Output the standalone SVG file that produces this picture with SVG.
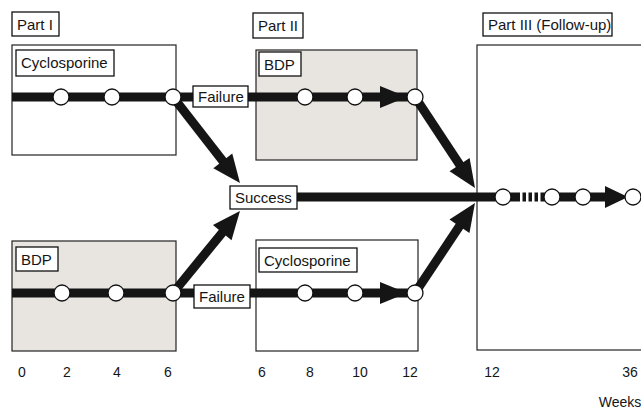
<svg xmlns="http://www.w3.org/2000/svg" width="641" height="409" viewBox="0 0 641 409">
<defs>
<style>
.lbl{fill:#fff;stroke:#111;stroke-width:1.3}
.t{font-family:"Liberation Sans",Arial,sans-serif;font-size:15px;fill:#151515}
.ax{font-family:"Liberation Sans",Arial,sans-serif;font-size:14px;fill:#151515;text-anchor:middle}
.pane{stroke:#222;stroke-width:1.2;fill:#fff}
.shade{fill:#e8e5e1}
.bar{stroke:#151515;stroke-width:9;fill:none}
.pt{fill:#fff;stroke:#111;stroke-width:1.3}
.head{fill:#151515}
</style>
<marker id="ah" markerUnits="userSpaceOnUse" markerWidth="60" markerHeight="60" viewBox="-30 -30 60 60" refX="0" refY="0" orient="auto" overflow="visible">
<path d="M-8,-12 L20,0 L-8,12 Z" fill="#151515"/>
</marker>
</defs>
<rect width="641" height="409" fill="#fff"/>

<g id="panes">
<rect class="pane" x="12" y="45" width="164" height="110"/>
<rect class="pane shade" x="256" y="50" width="161" height="110" stroke="#222" stroke-width="1.2"/>
<rect class="pane shade" x="12" y="241" width="164" height="110" stroke="#222" stroke-width="1.2"/>
<rect class="pane" x="256" y="240" width="162" height="111"/>
<rect class="pane" x="477" y="45" width="170" height="305"/>
</g>

<g id="connectors">
<line class="bar" x1="12" y1="97" x2="415" y2="97"/>
<line class="bar" x1="12" y1="293" x2="415" y2="293"/>
<line class="bar" x1="297" y1="197" x2="616" y2="197"/>
<polygon class="head" points="380,86 407,97 380,108"/>
<polygon class="head" points="380,282 407,293 380,304"/>
<polygon class="head" points="605,186 628,197 605,208"/>
<line class="bar" x1="173" y1="97" x2="227.7" y2="167.2" marker-end="url(#ah)"/>
<line class="bar" x1="173" y1="293" x2="227.3" y2="226.5" marker-end="url(#ah)"/>
<line class="bar" x1="415" y1="97" x2="464" y2="171.3" marker-end="url(#ah)"/>
<line class="bar" x1="415" y1="293" x2="463.9" y2="219.6" marker-end="url(#ah)"/>
<g fill="#fff">
<rect x="520" y="192" width="2.5" height="10"/>
<rect x="526" y="192" width="2.5" height="10"/>
<rect x="532" y="192" width="2.5" height="10"/>
<rect x="538" y="192" width="2.5" height="10"/>
</g>
</g>

<g id="points">
<circle class="pt" cx="61" cy="97" r="8"/>
<circle class="pt" cx="112" cy="97" r="8"/>
<circle class="pt" cx="173" cy="97" r="8"/>
<circle class="pt" cx="305" cy="97" r="8"/>
<circle class="pt" cx="355" cy="97" r="8"/>
<circle class="pt" cx="415" cy="97" r="8"/>
<circle class="pt" cx="62" cy="293" r="8"/>
<circle class="pt" cx="116" cy="293" r="8"/>
<circle class="pt" cx="173" cy="293" r="8"/>
<circle class="pt" cx="305" cy="293" r="8"/>
<circle class="pt" cx="355" cy="293" r="8"/>
<circle class="pt" cx="415" cy="293" r="8"/>
<circle class="pt" cx="503" cy="197" r="8"/>
<circle class="pt" cx="552" cy="197" r="8"/>
<circle class="pt" cx="583" cy="197" r="8"/>
<circle class="pt" cx="633" cy="197" r="8"/>
</g>

<g id="part1-label"><rect class="lbl" x="12" y="12" width="47" height="24"/><text class="t" x="17" y="30">Part I</text></g>
<g id="part2-label"><rect class="lbl" x="253" y="13" width="50" height="25"/><text class="t" x="258" y="31">Part II</text></g>
<g id="part3-label"><rect class="lbl" x="483" y="13" width="129" height="23"/><text class="t" x="488" y="30">Part III (Follow-up)</text></g>
<g id="cyclo-top"><rect class="lbl" x="16" y="50" width="98" height="26"/><text class="t" x="21" y="68">Cyclosporine</text></g>
<g id="bdp-top"><rect class="lbl" x="259" y="52" width="42" height="24"/><text class="t" x="264" y="70">BDP</text></g>
<g id="failure-top"><rect class="lbl" x="193" y="86" width="55" height="21"/><text class="t" x="198" y="102">Failure</text></g>
<g id="success"><rect class="lbl" x="230" y="186" width="67" height="23"/><text class="t" x="235" y="203">Success</text></g>
<g id="bdp-bottom"><rect class="lbl" x="16" y="247" width="42" height="24"/><text class="t" x="21" y="265">BDP</text></g>
<g id="failure-bottom"><rect class="lbl" x="194" y="285" width="56" height="23"/><text class="t" x="199" y="302">Failure</text></g>
<g id="cyclo-bottom"><rect class="lbl" x="259" y="248" width="98" height="24"/><text class="t" x="264" y="266">Cyclosporine</text></g>

<g id="axis">
<text class="ax" x="22" y="377">0</text>
<text class="ax" x="67" y="377">2</text>
<text class="ax" x="117" y="377">4</text>
<text class="ax" x="168" y="377">6</text>
<text class="ax" x="262" y="377">6</text>
<text class="ax" x="310" y="377">8</text>
<text class="ax" x="360" y="377">10</text>
<text class="ax" x="410" y="377">12</text>
<text class="ax" x="492" y="377">12</text>
<text class="ax" x="630" y="377">36</text>
<text class="ax" x="620" y="407">Weeks</text>
</g>
</svg>
